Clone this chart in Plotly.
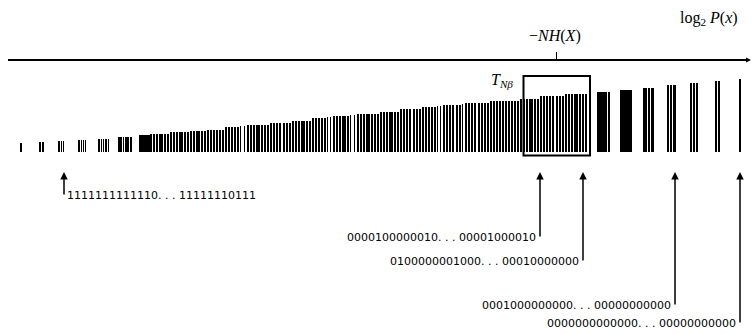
import plotly.graph_objects as go

# ---------------- data (horizontal unit: position on the log2 P(x) scale, drawn 1 unit = 1 px;
# vertical unit: string height above the baseline) ----------------

# isolated strings / solid runs : left edge, right edge, height
solid_x0 = [20, 39, 42, 58, 61, 63, 78, 81, 83, 85, 98, 101, 103, 105, 108,
            118, 123, 125, 130, 139,
            597, 608, 620, 643, 648, 651, 667, 670, 673, 690, 693, 696, 715, 718, 739]
solid_x1 = [22, 41, 44, 60, 62, 64, 80, 82, 84, 86, 100, 102, 104, 107, 109,
            122, 124, 129, 132, 150,
            607, 610, 632, 647, 650, 654, 669, 672, 676, 692, 695, 698, 717, 720, 741]
solid_h = [9.5, 10.5, 10.5, 11.5, 11.5, 11.5, 12.5, 12.5, 12.5, 12.5, 13.5, 13.5, 13.5, 13.5, 13.5,
           15, 15, 15, 15.5, 17,
           60, 60, 62, 64, 64, 64, 67, 67, 67, 69, 69, 69, 71, 71, 73]

# runs of closely packed strings: left edge, right edge, height, number of strings, string thickness
run_x0 = [150, 170, 190, 207, 225, 240, 247, 270, 292, 312, 327, 333, 350, 357, 380,
          400, 422, 437, 443, 462, 465, 490, 520, 540, 565]
run_x1 = [170, 190, 207, 225, 240, 247, 270, 292, 312, 327, 333, 350, 357, 380, 400,
          422, 437, 443, 462, 465, 490, 520, 540, 565, 588]
run_h = [18, 20, 21, 22, 25, 26, 27, 29, 31.5, 34, 35, 36, 37, 38, 40,
         43, 45, 46, 47, 48, 49, 51, 53, 56, 58]
run_n = [7, 7, 6, 6, 5, 2, 8, 7, 7, 5, 2, 6, 2, 8, 7,
         7, 5, 2, 6, 1, 8, 10, 7, 8, 8]
run_w = [2, 2, 2, 2, 2, 1, 2, 2, 2, 2, 1, 2, 1, 2, 2,
         2, 2, 1, 2, 1, 2, 2, 2, 2, 2]

# example strings pointed at below the axis: position, label
ex_pos = [64, 540, 583, 675, 740]
ex_label = ["1111111111110. . . 11111110111",
            "0000100000010. . . 00001000010",
            "0100000001000. . . 00010000000",
            "0001000000000. . . 00000000000",
            "0000000000000. . . 00000000000"]
ex_depth = [-44, -86, -110, -154, -172]

typical_lo, typical_hi = 523.5, 590   # T_{N beta} window
entropy_pos = 556.5                   # -N H(X)

# ---------------- figure ----------------
fig = go.Figure()

fig.add_trace(go.Bar(
    x=[(a + b) / 2 for a, b in zip(solid_x0, solid_x1)],
    width=[b - a for a, b in zip(solid_x0, solid_x1)],
    y=solid_h, base=0,
    marker=dict(color="black", line=dict(width=0)),
    hoverinfo="skip", showlegend=False))

# spread the strings of each run evenly across the run
sx, sw, sh = [], [], []
for a, b, h, n, w in zip(run_x0, run_x1, run_h, run_n, run_w):
    pitch = (b - a) / n
    for k in range(n):
        left = round(a + k * pitch)
        sx.append(left + w / 2)
        sw.append(w)
        sh.append(h)

fig.add_trace(go.Bar(
    x=sx, width=sw, y=sh, base=0,
    marker=dict(color="black", line=dict(width=0)),
    hoverinfo="skip", showlegend=False))

shapes = [
    # log2 P(x) axis
    dict(type="line", x0=8, x1=748, y0=92, y1=92, line=dict(color="black", width=2)),
    # tick for -NH(X)
    dict(type="line", x0=entropy_pos, x1=entropy_pos, y0=92, y1=100, line=dict(color="black", width=1)),
    # typical set box
    dict(type="rect", x0=typical_lo, x1=typical_hi, y0=-3.5, y1=76, line=dict(color="black", width=2)),
]

annotations = [
    dict(x=751, y=92, ax=744, ay=92, axref="x", ayref="y", xref="x", yref="y", text="",
         showarrow=True, arrowhead=2, arrowsize=1, arrowwidth=1, arrowcolor="black"),
    dict(x=740, y=134, xref="x", yref="y", text="log<sub>2</sub> <i>P</i>(<i>x</i>)",
         showarrow=False, xanchor="right", yanchor="middle",
         font=dict(family="Liberation Serif", size=16, color="black")),
    dict(x=entropy_pos - 2, y=116, xref="x", yref="y", text="−<i>NH</i>(<i>X</i>)",
         showarrow=False, xanchor="center", yanchor="middle",
         font=dict(family="Liberation Serif", size=16, color="black")),
    dict(x=502, y=72, xref="x", yref="y", text="<i>T</i><sub><i>Nβ</i></sub>",
         showarrow=False, xanchor="center", yanchor="middle",
         font=dict(family="Liberation Serif", size=16, color="black")),
]

for i, (p, lab, d) in enumerate(zip(ex_pos, ex_label, ex_depth)):
    annotations.append(dict(x=p, y=-20, ax=p, ay=d, axref="x", ayref="y", xref="x", yref="y",
                            text="", showarrow=True, arrowhead=2, arrowsize=1, arrowwidth=1.5,
                            arrowcolor="black", standoff=0, startstandoff=0))
    annotations.append(dict(x=(p + 1) if i == 0 else (p - 2), y=d + 1, xref="x", yref="y", text=lab,
                            showarrow=False, xanchor="left" if i == 0 else "right", yanchor="middle",
                            font=dict(family="DejaVu Sans", size=11, color="black")))

fig.update_layout(
    width=753, height=335,
    margin=dict(l=0, r=0, t=0, b=0, pad=0),
    paper_bgcolor="white", plot_bgcolor="white",
    barmode="overlay", bargap=0, bargroupgap=0,
    xaxis=dict(range=[0, 753], visible=False, fixedrange=True),
    yaxis=dict(range=[-183, 152], visible=False, fixedrange=True),
    shapes=shapes, annotations=annotations,
    showlegend=False,
)

fig.write_html("out.html", config={"displayModeBar": False},
               post_script="document.body.style.margin='0';document.body.style.overflow='hidden';")
